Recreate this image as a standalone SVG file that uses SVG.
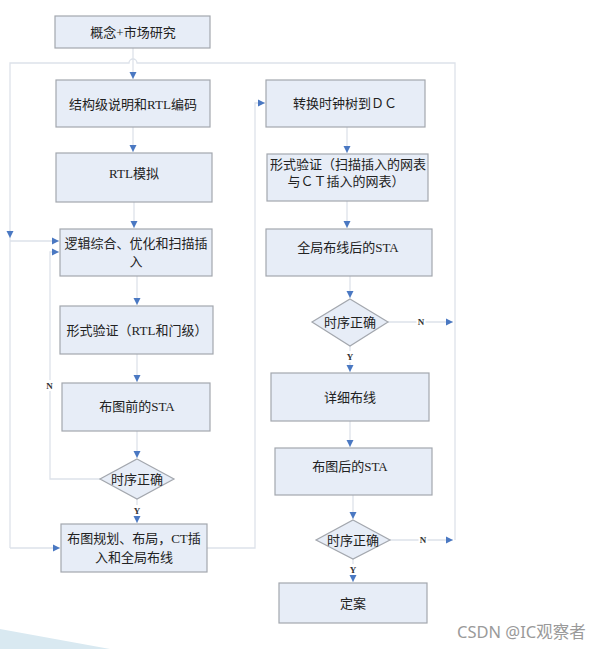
<svg xmlns="http://www.w3.org/2000/svg" width="601" height="649" viewBox="0 0 601 649">
<style>
.box{fill:#e7edf7;stroke:#a3a7ae;stroke-width:1.2}
.t{font-family:"Liberation Serif","Noto Sans CJK SC",serif;font-size:13px;fill:#222;text-anchor:middle;dominant-baseline:central}
.lbl{font-family:"Liberation Serif",serif;font-size:9px;font-weight:bold;fill:#333;text-anchor:middle;dominant-baseline:central}
.c{fill:none;stroke:#dde2ea;stroke-width:1.3}
.ca{fill:none;stroke:#dde2ea;stroke-width:1.3;marker-end:url(#ah)}
</style>
<defs>
<marker id="ah" markerWidth="8" markerHeight="8" refX="7" refY="4" orient="auto" markerUnits="userSpaceOnUse">
<path d="M0,0.5 L7,4 L0,7.5 Z" fill="#4a78c2"/>
</marker>
</defs>
<rect width="601" height="649" fill="#fff"/>
<polygon points="0,629 110,649 0,649" fill="#d9e9f1"/>
<g id="connectors">
<path class="ca" d="M133,48 V79"/>
<path class="c" d="M455,540 V63 H137 a4,4 0 0 0 -8,0 H10 V548"/>
<path class="ca" d="M10,548 H60"/>
<path class="ca" d="M10,230 V238"/>
<path class="ca" d="M10,241 H59"/>
<path class="ca" d="M133,127 V152"/>
<path class="ca" d="M134,202 V228"/>
<path class="ca" d="M137,276 V305"/>
<path class="ca" d="M137,354 V382"/>
<path class="ca" d="M137,431 V458"/>
<path class="ca" d="M137,499 V523"/>
<path class="ca" d="M100,479 H50 V252 H59"/>
<path class="ca" d="M207,548 H255 V103 H265"/>
<path class="ca" d="M347,127 V153"/>
<path class="ca" d="M347,201 V228"/>
<path class="ca" d="M350,276 V298"/>
<path class="ca" d="M350,346 V372"/>
<path class="ca" d="M388,322 H453"/>
<path class="ca" d="M350,421 V447"/>
<path class="ca" d="M353,495 V519"/>
<path class="ca" d="M353,559 V582"/>
<path class="ca" d="M390,540 H453"/>
<rect x="45" y="380" width="9" height="11" fill="#fff"/><text class="lbl" x="49.5" y="385.5">N</text>
<rect x="132.5" y="505" width="9" height="11" fill="#fff"/><text class="lbl" x="137" y="510.5">Y</text>
<rect x="416.5" y="316" width="9" height="11" fill="#fff"/><text class="lbl" x="421" y="321.5">N</text>
<rect x="345.5" y="351" width="9" height="11" fill="#fff"/><text class="lbl" x="350" y="356.5">Y</text>
<rect x="418.5" y="534" width="9" height="11" fill="#fff"/><text class="lbl" x="423" y="539.5">N</text>
<rect x="348.5" y="564" width="9" height="11" fill="#fff"/><text class="lbl" x="353" y="569.5">Y</text>
</g>
<g id="n1"><rect class="box" x="55" y="16" width="155" height="32"/><text class="t" x="133" y="32">概念+市场研究</text></g>
<g id="n2"><rect class="box" x="56" y="80" width="154" height="47"/><text class="t" x="133" y="104">结构级说明和RTL编码</text></g>
<g id="n3"><rect class="box" x="56" y="153" width="156" height="49"/><text class="t" x="134" y="173">RTL模拟</text></g>
<g id="n4"><rect class="box" x="60" y="229" width="152" height="47"/><text class="t" x="136" y="243">逻辑综合、优化和扫描插</text><text class="t" x="136" y="261">入</text></g>
<g id="n5"><rect class="box" x="60" y="306" width="153" height="48"/><text class="t" x="137" y="330">形式验证（RTL和门级）</text></g>
<g id="n6"><rect class="box" x="62" y="383" width="148" height="48"/><text class="t" x="137" y="406">布图前的STA</text></g>
<g id="d1"><polygon class="box" points="137,459 174,479 137,499 100,479"/><text class="t" x="137" y="479">时序正确</text></g>
<g id="n7"><rect class="box" x="61" y="524" width="146" height="48"/><text class="t" x="134" y="538">布图规划、布局，CT插</text><text class="t" x="134" y="557">入和全局布线</text></g>
<g id="n8"><rect class="box" x="266" y="80" width="159" height="47"/><text class="t" x="345" y="103">转换时钟树到ＤＣ</text></g>
<g id="n9"><rect class="box" x="267" y="154" width="161" height="47"/><text class="t" x="348" y="164">形式验证（扫描插入的网表</text><text class="t" x="346" y="181">与ＣＴ插入的网表）</text></g>
<g id="n10"><rect class="box" x="266" y="229" width="166" height="47"/><text class="t" x="348" y="247">全局布线后的STA</text></g>
<g id="d2"><polygon class="box" points="350,299 388,322 350,346 312,322"/><text class="t" x="350" y="322">时序正确</text></g>
<g id="n11"><rect class="box" x="271" y="373" width="158" height="48"/><text class="t" x="350" y="397">详细布线</text></g>
<g id="n12"><rect class="box" x="275" y="448" width="157" height="47"/><text class="t" x="350" y="466">布图后的STA</text></g>
<g id="d3"><polygon class="box" points="353,520 390,540 353,559 316,540"/><text class="t" x="353" y="540">时序正确</text></g>
<g id="n13"><rect class="box" x="279" y="583" width="148" height="40"/><text class="t" x="353" y="603">定案</text></g>
<text x="457" y="638" font-family="'Noto Sans','Noto Sans CJK SC',sans-serif" font-size="16.5" fill="#9a9a9a">CSDN @IC观察者</text>
</svg>
